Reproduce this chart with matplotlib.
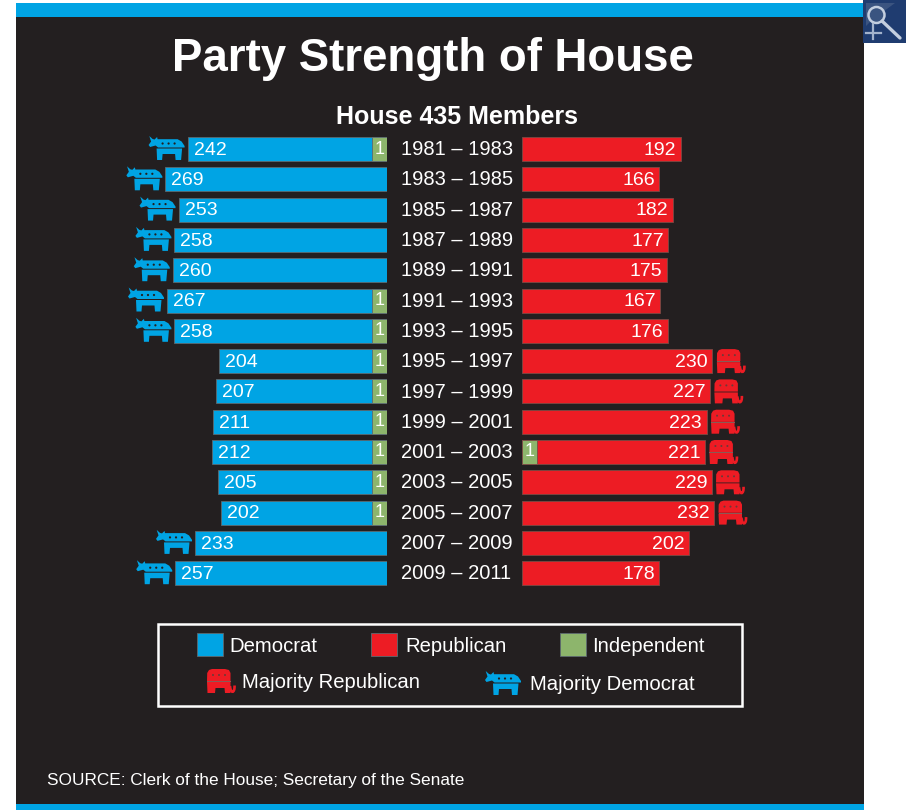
import matplotlib
matplotlib.use("Agg")
import matplotlib.pyplot as plt
from matplotlib.patches import Rectangle, Polygon, Circle, PathPatch
from matplotlib.path import Path
from matplotlib.transforms import Affine2D

plt.rcParams['font.family'] = ['Liberation Sans', 'DejaVu Sans']

terms = ["1981 – 1983", "1983 – 1985", "1985 – 1987", "1987 – 1989", "1989 – 1991",
         "1991 – 1993", "1993 – 1995", "1995 – 1997", "1997 – 1999", "1999 – 2001",
         "2001 – 2003", "2003 – 2005", "2005 – 2007", "2007 – 2009", "2009 – 2011"]
democrat = [242, 269, 253, 258, 260, 267, 258, 204, 207, 211, 212, 205, 202, 233, 257]
republican = [192, 166, 182, 177, 175, 167, 176, 230, 227, 223, 221, 229, 232, 202, 178]
# the last red bar is drawn shorter than its printed 178 in the original graphic
republican_drawn = [192, 166, 182, 177, 175, 167, 176, 230, 227, 223, 221, 229, 232, 202, 166]
independent_d = [1, 0, 0, 0, 0, 1, 1, 1, 1, 1, 1, 1, 1, 0, 0]
independent_r = [0, 0, 0, 0, 0, 0, 0, 0, 0, 0, 1, 0, 0, 0, 0]

PANEL = '#231f20'
BLUE = '#00a4e4'
RED = '#ed1c24'
GREEN = '#8db56c'
W, H = 906, 810
row0, pitch = 149.0, 30.3
px_d, px_r = 0.824, 0.8276

fig = plt.figure(figsize=(W / 100, H / 100), dpi=100, facecolor='white')
bg = fig.add_axes([0, 0, 1, 1])
bg.set_xlim(0, W)
bg.set_ylim(H, 0)
bg.axis('off')


def pixel_axes(x0, x1, xlim):
    # axes placed by pixels, rows and seats as data units
    y0, y1 = 130.0, 590.0
    ax = fig.add_axes([x0 / W, 1 - y1 / H, (x1 - x0) / W, (y1 - y0) / H])
    ax.set_xlim(*xlim)
    ax.set_ylim((y1 - row0) / pitch, (y0 - row0) / pitch)
    ax.axis('off')
    ax.patch.set_alpha(0)
    return ax


def to_bg(ax, x, y):
    return bg.transData.inverted().transform(ax.transData.transform((x, y)))


def donkey(x, y):
    # x,y is the top left corner of the 36x24 icon
    t = Affine2D().translate(x, y) + bg.transData
    top = [(0.7, 0), (4, 3), (6, 3.5), (8.5, 1), (9, 3.2), (29, 3.2), (33, 5.5), (36, 10),
           (36, 11.5), (9.5, 11.5), (7, 9.5), (1.5, 11), (0, 9), (2.5, 5.5)]
    low = [(8, 12.5), (33.5, 12.5), (32.5, 24), (27, 24), (26.5, 18), (14, 18), (13.5, 24), (8.5, 24)]
    bg.add_patch(Polygon(top, closed=True, fc=BLUE, ec='none', transform=t, zorder=5))
    bg.add_patch(Polygon(low, closed=True, fc=BLUE, ec='none', transform=t, zorder=5))
    for dx in (14, 20, 26):
        bg.add_patch(Circle((dx, 7.5), 1.1, fc=PANEL, ec='none', transform=t, zorder=6))


def elephant(x, y):
    # x,y is the top left corner of the 28x24 icon
    t = Affine2D().translate(x, y) + bg.transData
    top = [(0, 12.2), (0.2, 4), (2, 1), (5, 0), (18, 0), (22, 1), (23.5, 4), (23.5, 12.2)]
    low = [(0, 13), (23.5, 13), (23.5, 24), (18, 24), (17.5, 19), (8.5, 19), (8, 24), (0.5, 24)]
    bg.add_patch(Polygon(top, closed=True, fc=RED, ec='none', transform=t, zorder=5))
    bg.add_patch(Polygon(low, closed=True, fc=RED, ec='none', transform=t, zorder=5))
    bg.add_patch(Rectangle((0, 12.2), 23.5, 0.8, fc='#8a5a55', ec='none', transform=t, zorder=5))
    trunk = Path([(23, 17), (23.5, 25), (28, 24.5), (27.5, 16.5)],
                 [Path.MOVETO, Path.CURVE4, Path.CURVE4, Path.CURVE4])
    bg.add_patch(PathPatch(trunk, fc='none', ec=RED, lw=1.9, transform=t, zorder=5))
    for dx in (6, 12, 18):
        bg.add_patch(Circle((dx, 6), 1.0, fc='#6b3a38', ec='none', transform=t, zorder=6))


# panel and bands
bg.add_patch(Rectangle((16, 3), 848, 807, fc=PANEL, ec='none'))
bg.add_patch(Rectangle((16, 3), 848, 13.5, fc=BLUE, ec='none'))
bg.add_patch(Rectangle((16, 804), 848, 6, fc=BLUE, ec='none'))

# magnifier button
bg.add_patch(Rectangle((863, 0), 43, 43, fc='#1f3c70', ec='none'))
bg.add_patch(Polygon([(866, 3), (895, 3), (872, 20), (866, 26)], closed=True, fc='#3b5480', ec='none'))
bg.add_patch(Circle((876.5, 15), 8, fc='#3a5480', ec='#c3cedf', lw=1.8))
bg.plot([882, 900], [21, 38], color='#c3cedf', lw=2.4, solid_capstyle='round')
bg.plot([873, 873], [24, 39], color='#a3b3cc', lw=1.6)
bg.plot([866, 881], [33, 33], color='#a3b3cc', lw=1.6)

bg.text(432.5, 59, "Party Strength of House", color='white', fontsize=32.9, fontweight='bold',
        ha='center', va='center')
bg.text(457.5, 117.5, "House 435 Members", color='white', fontsize=18, fontweight='bold',
        ha='center', va='center')

rows = list(range(len(terms)))
ax_d = pixel_axes(16, 387, (371 / px_d, 0))
ax_r = pixel_axes(522, 864, (0, 342 / px_r))
ax_d.barh(rows, democrat, height=24 / pitch, color=BLUE, edgecolor='#5d6a70', linewidth=0.6)
ax_r.barh(rows, republican_drawn, height=24 / pitch, color=RED, edgecolor='#7a4a44', linewidth=0.6)

GREEN_D = 15 / px_d
GREEN_R = 15 / px_r
for i in rows:
    d, r, rd = democrat[i], republican[i], republican_drawn[i]
    ax_d.annotate(str(d), (d, i), xytext=(6 * 0.72, -1), textcoords='offset points', color='white',
                  fontsize=14, ha='left', va='center')
    ax_r.annotate(str(r), (rd, i), xytext=(-4.5 * 0.72, -1), textcoords='offset points', color='white',
                  fontsize=14, ha='right', va='center')
    ax_d.annotate(terms[i], (0, i), xytext=(14 * 0.72, -0.5), textcoords='offset points', color='white',
                  fontsize=14.5, ha='left', va='center', annotation_clip=False)
    if independent_d[i]:
        ax_d.barh(i, GREEN_D, height=24 / pitch, color=GREEN, edgecolor='#5d6a70', linewidth=0.6)
        ax_d.annotate("1", (GREEN_D / 2, i), color='white', fontsize=13, ha='center', va='center')
    if independent_r[i]:
        ax_r.barh(i, GREEN_R, height=24 / pitch, color=GREEN, edgecolor='#7a4a44', linewidth=0.6)
        ax_r.annotate("1", (GREEN_R / 2, i), color='white', fontsize=13, ha='center', va='center')
    # majority icon beside the longer bar
    if d > r:
        px, py = to_bg(ax_d, d, i)
        donkey(px - 39, py - 13)
    else:
        px, py = to_bg(ax_r, rd, i)
        elephant(px + 4.5, py - 12)

# key
bg.add_patch(Rectangle((157.5, 623.5), 584, 82, fc='none', ec='white', lw=1.8))
for x, c in zip((197, 371, 560), (BLUE, RED, GREEN)):
    bg.add_patch(Rectangle((x, 633), 26, 23, fc=c, ec='#5d6a70', lw=0.6))
bg.text(229, 647, "Democrat", color='white', fontsize=14.6, ha='left', va='center')
bg.text(405, 646, "Republican", color='white', fontsize=14.6, ha='left', va='center')
bg.text(592, 647, "Independent", color='white', fontsize=14.6, ha='left', va='center')
elephant(207, 669)
bg.text(242, 682, "Majority Republican", color='white', fontsize=14.6, ha='left', va='center')
donkey(485, 671)
bg.text(530, 685, "Majority Democrat", color='white', fontsize=14.6, ha='left', va='center')

bg.text(47, 780, "SOURCE: Clerk of the House; Secretary of the Senate", color='white', fontsize=12.4,
        ha='left', va='center')

fig.savefig("out.png", dpi=100, facecolor='white')
